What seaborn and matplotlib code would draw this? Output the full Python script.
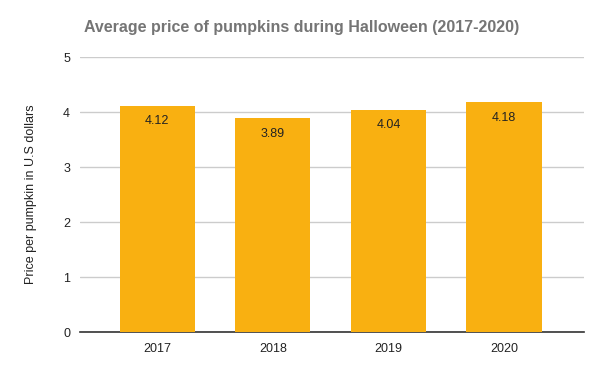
import pandas as pd
import matplotlib
matplotlib.use("Agg")
import matplotlib.pyplot as plt
import seaborn as sns

sns.set_theme(style="white")
plt.rcParams['font.family'] = ['Liberation Sans', 'DejaVu Sans']

years = ['2017', '2018', '2019', '2020']
prices = [4.12, 3.89, 4.04, 4.18]
price_labels = ['4.12', '3.89', '4.04', '4.18']

df = pd.DataFrame({'Year': years, 'Price': prices})

fig = plt.figure(figsize=(6, 3.71), dpi=100)
ax = fig.add_axes([0.133, 0.105, 0.84, 0.741])

sns.barplot(data=df, x='Year', y='Price', color='#F9B011', saturation=1,
            width=0.65, linewidth=0, ax=ax, zorder=3)

for i, v in enumerate(prices):
    ax.text(i, v - 0.28, price_labels[i], ha='center', va='center',
            fontsize=9, color='#222222', zorder=4)

ax.set_ylim(0, 5)
ax.set_xlim(-0.67, 3.69)
ax.set_yticks([0, 1, 2, 3, 4, 5])
ax.yaxis.grid(True, color='#CCCCCC', linewidth=1, zorder=0)
ax.set_axisbelow(True)
for s in ['top', 'right', 'left']:
    ax.spines[s].set_visible(False)
ax.spines['bottom'].set_color('#333333')
ax.spines['bottom'].set_linewidth(1.2)
ax.tick_params(axis='both', length=0, labelsize=9, labelcolor='#222222')
ax.tick_params(axis='y', pad=7)
ax.tick_params(axis='x', pad=8)
ax.set_xlabel('')
ax.set_ylabel('Price per pumpkin in U.S dollars', fontsize=9, color='#222222', labelpad=19)

fig.suptitle('Average price of pumpkins during Halloween (2017-2020)',
             x=0.503, y=0.945, fontsize=11.5, fontweight='bold', color='#757575')

plt.savefig('out.png', dpi=100)
plt.close()
